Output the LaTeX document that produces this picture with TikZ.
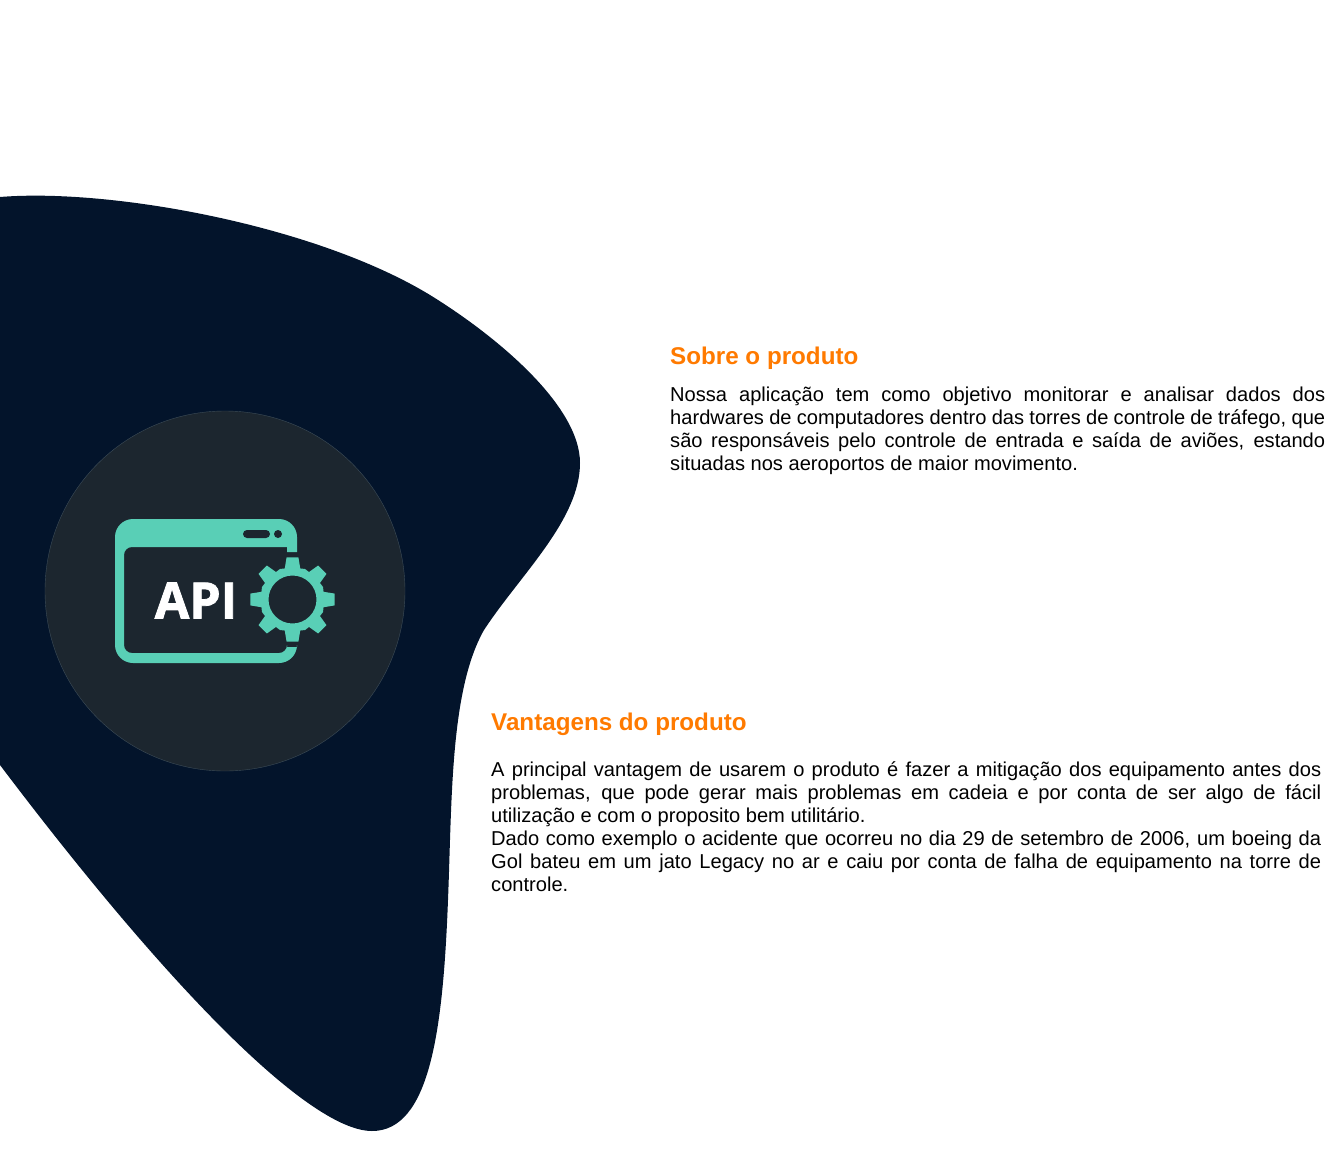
\documentclass[tikz,border=0pt]{standalone}
\usepackage{fontspec}
\setmainfont{Liberation Sans}
\newfontfamily\apifont[BoldFeatures={FakeBold=1.6}]{Open Sans}
\definecolor{blobblue}{HTML}{03142B}
\definecolor{discgray}{HTML}{1C262F}
\definecolor{discedge}{HTML}{3C4C58}
\definecolor{apiteal}{HTML}{59CFB6}
\definecolor{headorange}{HTML}{FF7A00}
\tikzset{
  headtext/.style={anchor=base west,inner sep=0pt,text=headorange,font=\fontsize{24.2}{28}\selectfont\bfseries},
  bodytext/.style={anchor=north west,inner sep=0pt,align=justify,text=black,font=\fontsize{20.1}{23}\selectfont},
}
\begin{document}
\begin{tikzpicture}[x=1pt,y=-1pt]
\useasboundingbox (0,0) rectangle (1325,1156);
% background blob
\fill[blobblue] (0,197) .. controls (110,188) and (315,225) .. (430,295)
  .. controls (495,335) and (580,405) .. (580,463)
  .. controls (580,520) and (520,575) .. (484,630)
  .. controls (450,690) and (452,800) .. (448,900)
  .. controls (443,1030) and (430,1131) .. (372,1131)
  .. controls (310,1131) and (170,990) .. (0,765) -- cycle;
\filldraw[fill=discgray,draw=discedge,line width=0.4pt] (225,591) circle (180);
% window
\fill[apiteal] (297,552) [rounded corners=18pt] -- (297,519) -- (115,519) -- (115,663) -- (297,663)
  [sharp corners] -- (297,647) -- (287,647)
  [rounded corners=8pt] -- (287,653) -- (124,653) -- (124,547)
  [sharp corners] -- (287,547) -- (287,552) -- cycle;
\fill[discgray,rounded corners=4pt] (243,530) rectangle (270,538);
\fill[discgray] (278,534) circle (4);
\node[inner sep=0pt,text=white] (api) at (196,600.5) {\apifont\fontsize{50}{50}\selectfont\bfseries API};
% gear
\begin{scope}[shift={(292.5,599.5)}]
\fill[apiteal,even odd rule] (-14:32)
  \foreach \a in {0,45,...,315}{
    -- (\a-14:32) -- (\a-8:42.5) -- (\a+8:42.5) -- (\a+14:32) -- (\a+22.5:33)
  } -- cycle (0,0) circle (24);
\end{scope}
% texts
\node[headtext] (sobrehead) at (670,364.5) {Sobre o produto};
\node[bodytext,text width=655pt] (sobrebody) at (670,386.5) {Nossa aplicação tem como objetivo monitorar e analisar dados dos\linebreak
hardwares de computadores dentro das torres de controle de tráfego, que\linebreak
são responsáveis pelo controle de entrada e saída de aviões, estando\linebreak
situadas nos aeroportos de maior movimento.};
\node[headtext] (vantagenshead) at (491,730.5) {Vantagens do produto};
\node[bodytext,text width=830pt] (vantagensbody) at (491,761.5) {A principal vantagem de usarem o produto é fazer a mitigação dos equipamento antes dos\linebreak
problemas, que pode gerar mais problemas em cadeia e por conta de ser algo de fácil\linebreak
utilização e com o proposito bem utilitário.\\
Dado como exemplo o acidente que ocorreu no dia 29 de setembro de 2006, um boeing da\linebreak
Gol bateu em um jato Legacy no ar e caiu por conta de falha de equipamento na torre de\linebreak
controle.};
\end{tikzpicture}
\end{document}
